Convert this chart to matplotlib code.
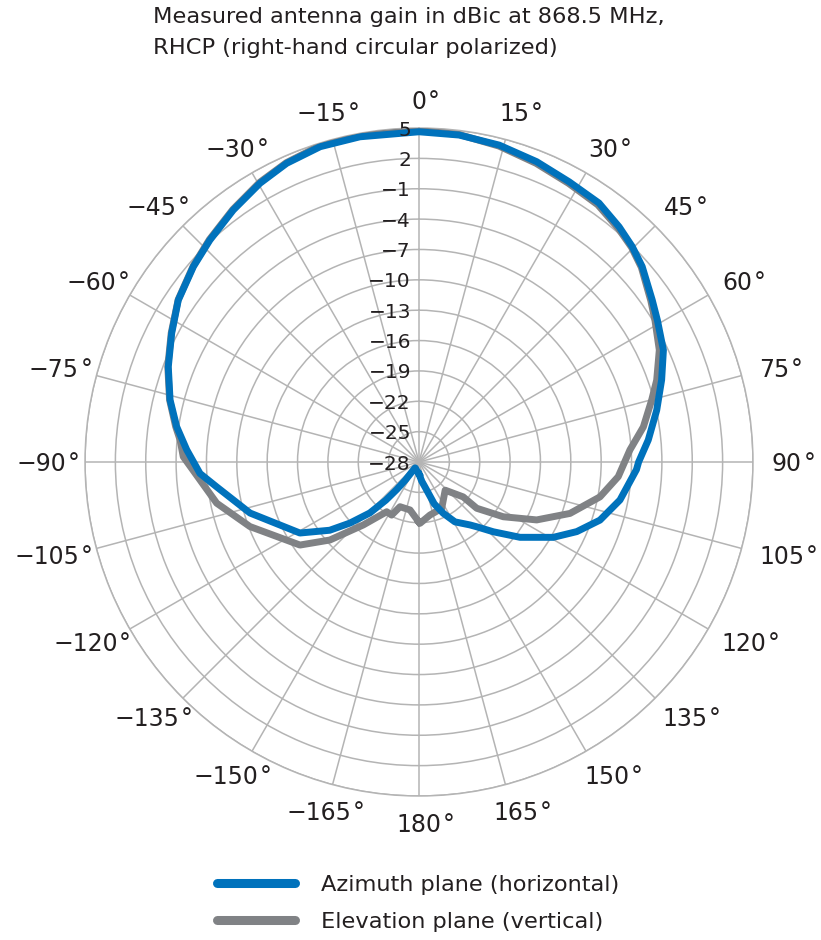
import numpy as np
import matplotlib.pyplot as plt
from matplotlib.lines import Line2D
import matplotlib.transforms as mtransforms

BLUE = '#0072bc'
GREY = '#808285'
GRID = '#b4b4b4'
TXT = '#231f20'

plt.rcParams['font.family'] = ['DejaVu Sans']

# azimuth plane (horizontal), angle in deg (clockwise from 0), gain in dBic
azAngle = [-180, -172, -160, -150, -146, -143, -141, -139, -136, -131.5, -127.4, -120.8,
           -106.8, -97.1, -93, -87, -81.7, -76, -69.2, -62.5, -56.1, -49.1, -43.3, -36.4,
           -29.7, -23.9, -17.4, -10.3, 0, 7, 14.2, 21.4, 28.2, 34.8, 40.4, 44.7, 48.8,
           55.2, 59.3, 65.4, 71.3, 77.7, 84.5, 90, 92, 100.7, 107.8, 113.8, 119.3, 126.7,
           133.2, 138.3, 141, 149, 154.7, 160, 166.5, 172, 176, 180]
azGain = [-26.8, -27.0, -27.2, -27.3, -27.3, -25.8, -24.5, -23.0, -21.0, -18.9, -16.9, -14.3,
          -10.56, -7.89, -6.33, -5.02, -3.8, -2.65, -1.5, -0.45, 0.66, 1.49, 2.13, 2.93,
          3.71, 4.28, 4.65, 4.66, 4.63, 4.55, 4.3, 3.87, 3.41, 3.16, 2.51, 1.95, 1.31,
          0.06, -0.6, -1.44, -2.69, -3.96, -5.24, -6.3, -6.5, -7.79, -9.22, -10.96, -12.79, -15.55,
          -17.93, -19.43, -20.0, -21.1, -22.4, -23.6, -25.46, -26.1, -26.55, -26.8]

# elevation plane (vertical)
elAngle = [-180, -169.4, -157, -152.7, -147, -142, -138.5, -131.2, -124.9, -110.9, -101.5,
           -88.7, -84.7, -81.7, -76, -69.2, -62.5, -56, -49, -43.3, -36.4, -29.7, -23.9,
           -17.4, -10.3, 0, 7, 14.2, 21.4, 28.2, 34.8, 40.4, 44.7, 48.8, 55.2, 59, 65, 71,
           75.1, 81.1, 86.7, 94.2, 100.9, 108.8, 116.2, 123, 128.7, 128.3, 137.1, 153.9,
           168.3, 179.1, 180]
elGain = [-22.05, -23.18, -23.2, -22.1, -22.14, -20.94, -19.7, -16.3, -13.66, -10.12, -7.6,
          -4.7, -4.29, -3.7, -2.6, -1.45, -0.4, 0.7, 1.55, 2.2, 3.0, 3.8, 4.35,
          4.75, 4.8, 4.75, 4.6, 4.2, 3.7, 3.25, 2.95, 2.35, 1.85, 1.2, -0.1, -0.8, -1.8, -3.16,
          -4.21, -5.56, -7.12, -8.26, -9.79, -12.24, -15.04, -18.07, -20.69, -22.44, -24.2, -22.9,
          -22.65, -21.94, -22.05]

rTicks = [5, 2, -1, -4, -7, -10, -13, -16, -19, -22, -25, -28]
thetaTicks = list(range(0, 360, 15))
thetaNums = []
for t in thetaTicks:
    v = t if t <= 180 else t - 360
    thetaNums.append(('\u2212' if v < 0 else '') + str(abs(v)))

TFS = 17     # theta label size
GAP = 19     # px between outer circle and label

fig = plt.figure(figsize=(8.21, 9.40), dpi=100)
ax = fig.add_axes([0.1035, 0.1532, 0.8137, 0.7106], projection='polar')
ax.set_theta_zero_location('N')
ax.set_theta_direction(-1)
ax.set_ylim(-28, 5)
ax.set_yticks(rTicks[:-1])
ax.set_yticklabels([])
ax.set_thetagrids(thetaTicks, [''] * len(thetaTicks))
ax.grid(color=GRID, linewidth=1.1)
ax.spines['polar'].set_color(GRID)
ax.spines['polar'].set_linewidth(1.1)

ax.plot(np.deg2rad(elAngle), elGain, color=GREY, lw=5, solid_joinstyle='round', zorder=3)
ax.plot(np.deg2rad(azAngle), azGain, color=BLUE, lw=5, solid_joinstyle='round', zorder=4)

# radial labels along the 0 deg line
off = mtransforms.offset_copy(ax.transData, fig=fig, x=-8, y=0, units='dots')
for v in rTicks:
    lab = ('\u2212' if v < 0 else '') + str(abs(v))
    ax.text(0, v, lab, transform=off, ha='right', va='center_baseline', fontsize=14.5,
            color=TXT, zorder=5)

# angle labels: number box sits GAP px off the circle, degree sign hangs after it
numTexts = []
for t, lab in zip(thetaTicks, thetaNums):
    a = np.deg2rad(t)
    numTexts.append(ax.text(0.5 + 0.5 * np.sin(a), 0.5 + 0.5 * np.cos(a), lab,
                            transform=ax.transAxes, ha='center', va='baseline',
                            fontsize=TFS, color=TXT))
fig.canvas.draw()
renderer = fig.canvas.get_renderer()
capH = 0.729 * TFS * 100 / 72
for txt, t in zip(numTexts, thetaTicks):
    a = np.deg2rad(t)
    w = txt.get_window_extent(renderer).width
    dx = np.sin(a) * (w / 2 + GAP)
    dy = np.cos(a) * (capH / 2 + GAP) - capH / 2
    txt.set_transform(ax.transAxes + mtransforms.Affine2D().translate(dx, dy))
    ax.annotate('\u00b0', xy=(1, 1), xycoords=txt, xytext=(1, 0), textcoords='offset points',
                ha='left', va='top', fontsize=TFS, color=TXT)

fig.text(153 / 821, 1 - 17 / 940, 'Measured antenna gain in dBic at 868.5 MHz,',
         ha='left', va='center', fontsize=16.2, color=TXT)
fig.text(153 / 821, 1 - 48 / 940, 'RHCP (right-hand circular polarized)',
         ha='left', va='center', fontsize=16.2, color=TXT)

handles = [Line2D([], [], color=BLUE, lw=6.5, solid_capstyle='round'),
           Line2D([], [], color=GREY, lw=6.5, solid_capstyle='round')]
fig.legend(handles, ['Azimuth plane (horizontal)', 'Elevation plane (vertical)'],
           loc='upper left', bbox_to_anchor=(217 / 821, 1 - 875 / 940), frameon=False,
           fontsize=16.2, handlelength=3.45, handletextpad=1.15, labelspacing=0.75,
           borderpad=0, borderaxespad=0, labelcolor=TXT)

fig.savefig('out.png', dpi=100)
